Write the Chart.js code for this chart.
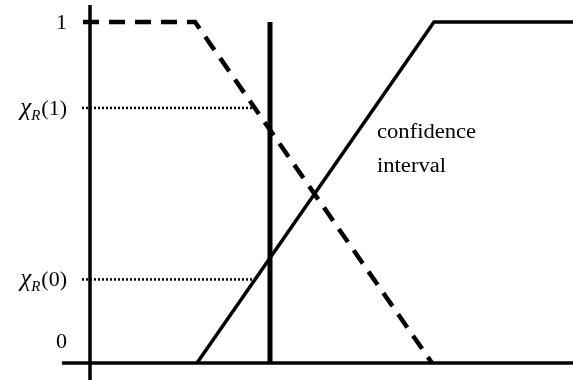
<!DOCTYPE html>
<html>
<head>
<meta charset="utf-8">
<title>confidence interval</title>
<script src="https://cdn.jsdelivr.net/npm/chart.js@4"></script>
<style>
    html, body { margin: 0; padding: 0; background: #fff; }
    #wrap { width: 573px; height: 380px; }
</style>
</head>
<body>
<div id="wrap"><canvas id="chart" width="573" height="380"></canvas></div>
<script>
// membership curves (x in arbitrary units, y is degree 0..1)
const fallingX = [-0.07, 1.05, 3.42]
const fallingY = [1, 1, 0]
const risingX = [1.07, 3.44, 4.83]
const risingY = [0, 1, 1]

// the cut (thick vertical bar)
const cutX = [1.80, 1.80]
const cutY = [0, 1]

// chi levels read where the dotted guides meet the curves
const chiValues = [0.245, 0.748]
const chiEndX = 1.65

// y tick positions and what goes beside them
const tickValues = [0, chiValues[0], chiValues[1], 1]
const tickLabels = [["0"], ["χ", "R", "(0)"], ["χ", "R", "(1)"], ["1"]]

const xMin = -0.9, xMax = 4.83
const yMin = -0.0499, yMax = 1.0645

function pts(xs, ys) {
    return xs.map((x, i) => ({ x: x, y: ys[i] }))
}

function lineSet(data, width, dash) {
    return {
        data: data,
        borderColor: "#000",
        borderWidth: width,
        borderDash: dash || [],
        borderCapStyle: "butt",
        pointRadius: 0,
        tension: 0,
        fill: false
    }
}

let datasets = [
    // axes
    lineSet(pts([-0.28, xMax], [0, 0]), 3.5),
    lineSet(pts([0, 0], [yMin, 1.05]), 3.5),
    // curves
    lineSet(pts(fallingX, fallingY), 4.5, [16, 10]),
    lineSet(pts(risingX, risingY), 3.5),
    lineSet(pts(cutX, cutY), 5)
]
for (let v of chiValues) {
    datasets.push(lineSet(pts([-0.08, chiEndX], [v, v]), 2.5, [2, 2]))
}

// text beside the y axis and the note on the right
const labelPlugin = {
    id: "labels",
    afterDraw(chart) {
        const ctx = chart.ctx
        const yScale = chart.scales.y
        const xScale = chart.scales.x
        ctx.save()
        ctx.fillStyle = "#000"
        ctx.textBaseline = "alphabetic"
        const right = xScale.getPixelForValue(-0.23)

        tickValues.forEach((v, i) => {
            const parts = tickLabels[i]
            let y = yScale.getPixelForValue(v) + 7
            if (parts.length === 1) {
                // the zero label sits above the axis line
                if (v === 0) y -= 22
                ctx.font = "22px 'Liberation Serif'"
                ctx.textAlign = "right"
                ctx.fillText(parts[0], right, y)
                return
            }
            const fonts = ["italic 25px 'Liberation Serif'", "italic 15px 'Liberation Serif'", "22px 'Liberation Serif'"]
            const shifts = [0, 5, 0]
            const gaps = [0, 1, 0]
            let widths = parts.map((p, k) => { ctx.font = fonts[k]; return ctx.measureText(p).width + gaps[k] })
            let x = right - widths.reduce((a, b) => a + b, 0)
            ctx.textAlign = "left"
            parts.forEach((p, k) => {
                ctx.font = fonts[k]
                ctx.fillText(p, x, y + shifts[k])
                x += widths[k]
            })
        })

        // note, stretched a little toward a wider serif face
        ctx.font = "20px 'Liberation Serif'"
        ctx.textAlign = "left"
        const noteX = xScale.getPixelForValue(2.87)
        ctx.translate(noteX, 0)
        ctx.scale(1.13, 1)
        ctx.fillText("confidence", 0, yScale.getPixelForValue(0.659))
        ctx.fillText("interval", 0, yScale.getPixelForValue(0.559))
        ctx.restore()
    }
}

new Chart(document.getElementById("chart"), {
    type: "line",
    data: { datasets: datasets },
    options: {
        responsive: false,
        animation: false,
        layout: { padding: 0 },
        plugins: {
            legend: { display: false },
            tooltip: { enabled: false }
        },
        scales: {
            x: { type: "linear", min: xMin, max: xMax, display: false },
            y: { type: "linear", min: yMin, max: yMax, display: false }
        }
    },
    plugins: [labelPlugin]
})
</script>
</body>
</html>
